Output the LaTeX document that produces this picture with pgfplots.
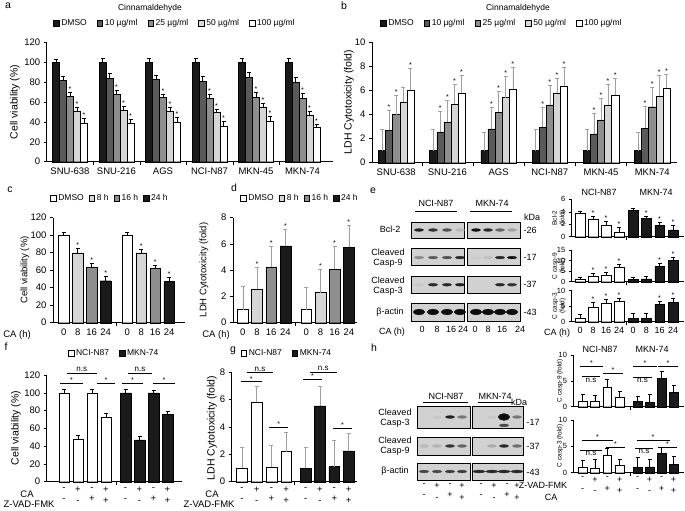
\documentclass[border=0pt]{standalone}
\usepackage{fontspec}
\setmainfont{Liberation Sans}
\usepackage{pgfplots}
\pgfplotsset{compat=1.18}

\newcommand\fs[2]{\fontsize{#1}{#2}\selectfont}

\definecolor{cK}{HTML}{1A1A1A}
\definecolor{cD}{HTML}{5A5A5A}
\definecolor{cM}{HTML}{8E8E8E}
\definecolor{cL}{HTML}{D6D6D6}

\pgfplotsset{
  base/.style={scale only axis, anchor=south west, axis x line*=bottom, axis y line*=left,
    tick align=outside, enlargelimits=false, clip=false,
    axis line style={line width=0.5pt}, tick style={black, line width=0.5pt},
    major tick length=3pt, tick label style={font=\fs{9.5}{11}, align=center},
    /pgf/number format/assume math mode=true, xticklabels={},
    error bars/error bar style={line width=0.5pt, black},
    legend style={draw=none, fill=none, font=\fs{8.5}{10}, anchor=center, inner sep=0pt,
      /tikz/every even column/.append style={column sep=8pt}},
    legend cell align=left},
  small/.style={tick label style={font=\fs{7.5}{9}}},
  cats/.style={extra x tick style={major tick length=0pt, xticklabel style={yshift=-#1}}},
  % bars sit at their own x; error bars do not follow bar shift
  br/.style 2 args={ybar, bar width=#1, bar shift=0pt, fill=#2, draw=black, line width=0.4pt,
    error bars/y dir=plus, error bars/y explicit,
    legend image code/.code={\draw[##1,/tikz/.cd,line width=0.4pt] (0pt,-2.8pt) rectangle (5.6pt,2.8pt);}},
  stars/.style={only marks, mark=*, mark size=0pt, forget plot,
    scatter/use mapped color={draw=none, fill=none},
    nodes near coords={*}, point meta=y,
    nodes near coords style={anchor=south, inner sep=0pt, font=\fs{7}{8}, text=black, yshift=0.5pt}},
  sig/.style={black, line width=0.5pt, mark=none, forget plot},
  blotax/.style={scale only axis, anchor=south west, enlargelimits=false, xtick=\empty, ytick=\empty,
    ymin=0, ymax=1, axis line style={line width=0.8pt}, axis background/.style={fill=black!18},
    colormap={blot}{color=(black!18) color=(black!95)}, point meta min=0, point meta max=1,
    tick label style={font=\fs{9}{11.5}, align=center}, xtick style={draw=none}},
  band/.style={scatter, only marks, mark=*, mark size=1.7pt, point meta=explicit,
    scatter/use mapped color={draw=mapped color, fill=mapped color},
    mark options={xscale=2.7, yscale=0.8}},
  wband/.style={band, mark size=2.2pt, mark options={xscale=2.6, yscale=1.3}},
}

% [opts]{left}{bottom}{width}{height}{right}{plots}
\newcommand\blot[7][]{%
\begin{axis}[blotax, at={(#2pt,-#3pt)}, width=#4pt, height=#5pt, xmin=#2, xmax=#6, #1]
#7
\end{axis}}

\begin{document}
\begin{tikzpicture}
\useasboundingbox (0pt,0pt) rectangle (685pt,-511pt);

% ---------------- a ----------------
\begin{axis}[base, at={(46.7pt,-161.7pt)}, width=286.3pt, height=119pt,
  xmin=46.7, xmax=333, ymin=0, ymax=120, ytick={0,20,...,120},
  xtick={93.25,139.75,186.25,232.75,279.25},
  extra x ticks={70,116.5,163,209.5,256,302.5},
  extra x tick labels={SNU-638,SNU-216,AGS,NCI-N87,MKN-45,MKN-74},
  cats=3pt,
  legend columns=5, legend style={at={(0.448,1.166)}}]
\addplot[br={7}{cK}] coordinates {(56,100)+-(0,3) (102.5,100)+-(0,4) (149,100)+-(0,4) (195.5,100)+-(0,4) (242,100)+-(0,4) (288.5,100)+-(0,4)};
\addlegendentry{DMSO}
\addplot[br={7}{cD}] coordinates {(63,82)+-(0,4) (109.5,84)+-(0,5) (156,83)+-(0,4) (202.5,81)+-(0,5) (249,85)+-(0,5) (295.5,80)+-(0,5)};
\addlegendentry{10 µg/ml}
\addplot[br={7}{cM}] coordinates {(70,66)+-(0,4) (116.5,68)+-(0,4) (163,65)+-(0,3) (209.5,64)+-(0,4) (256,65)+-(0,5) (302.5,64)+-(0,5)};
\addlegendentry{25 µg/ml}
\addplot[br={7}{cL}] coordinates {(77,51)+-(0,4) (123.5,52)+-(0,4) (170,51)+-(0,4) (216.5,50)+-(0,3) (263,55)+-(0,4) (309.5,47)+-(0,4)};
\addlegendentry{50 µg/ml}
\addplot[br={7}{white}] coordinates {(84,39)+-(0,5) (130.5,39)+-(0,4) (177,40)+-(0,5) (223.5,36)+-(0,5) (270,41)+-(0,5) (316.5,35)+-(0,3)};
\addlegendentry{100 µg/ml}
\addplot[stars] coordinates {(70,70) (116.5,72) (163,68) (209.5,68) (256,70) (302.5,69)
  (77,55) (123.5,56) (170,55) (216.5,53) (263,59) (309.5,51)
  (84,44) (130.5,43) (177,45) (223.5,41) (270,46) (316.5,38)};
\end{axis}

% ---------------- b ----------------
\begin{axis}[base, at={(372pt,-162.7pt)}, width=305pt, height=120.4pt,
  xmin=372, xmax=677, ymin=0, ymax=10, ytick={0,2,...,10},
  xtick={421.8,473,524.2,575.4,626.6},
  extra x ticks={396.2,447.4,498.6,549.8,601,652.2},
  extra x tick labels={SNU-638,SNU-216,AGS,NCI-N87,MKN-45,MKN-74},
  cats=3pt,
  error bars/error bar style={gray!75},
  legend columns=5, legend style={at={(0.426,1.160)}}]
\addplot[br={7.1}{cK}] coordinates {(382,1)+-(0,1.8) (433.2,1)+-(0,1.75) (484.4,1)+-(0,1.5) (535.6,1)+-(0,1.8) (586.8,1)+-(0,1.75) (638,1)+-(0,1.5)};
\addlegendentry{DMSO}
\addplot[br={7.1}{cD}] coordinates {(389.1,2.7)+-(0,1.7) (440.3,2.55)+-(0,1.7) (491.5,2.8)+-(0,1.8) (542.7,2.95)+-(0,1.7) (593.9,2.4)+-(0,1.7) (645.1,2.85)+-(0,1.85)};
\addlegendentry{10 µg/ml}
\addplot[br={7.1}{cM}] coordinates {(396.2,4.0)+-(0,1.6) (447.4,3.4)+-(0,1.8) (498.6,4.2)+-(0,1.7) (549.8,4.8)+-(0,1.6) (601,3.55)+-(0,1.8) (652.2,4.65)+-(0,1.65)};
\addlegendentry{25 µg/ml}
\addplot[br={7.1}{cL}] coordinates {(403.3,5.05)+-(0,1.25) (454.5,4.85)+-(0,1.7) (505.7,5.4)+-(0,1.75) (556.9,5.75)+-(0,1.25) (608.1,4.8)+-(0,1.7) (659.3,5.5)+-(0,1.8)};
\addlegendentry{50 µg/ml}
\addplot[br={7.1}{white}] coordinates {(410.4,6.0)+-(0,1.85) (461.6,5.8)+-(0,1.5) (512.8,6.1)+-(0,1.8) (564,6.35)+-(0,1.6) (615.2,5.6)+-(0,1.4) (666.4,6.2)+-(0,1.15)};
\addlegendentry{100 µg/ml}
\addplot[stars] coordinates {(389.1,4.4) (440.3,4.25) (491.5,4.6) (542.7,4.65) (593.9,4.1) (645.1,4.7)
  (396.2,5.6) (447.4,5.2) (498.6,5.9) (549.8,6.4) (601,5.35) (652.2,6.3)
  (454.5,6.55) (505.7,7.15) (556.9,7.0) (608.1,6.5) (659.3,7.3)
  (410.4,7.85) (461.6,7.3) (512.8,7.9) (564,7.95) (615.2,7.0) (666.4,7.35)};
\end{axis}

% ---------------- c ----------------
\begin{axis}[base, at={(53pt,-322.7pt)}, width=132pt, height=105pt,
  xmin=53, xmax=185, ymin=0, ymax=120, ytick={0,20,...,120},
  xtick={116},
  extra x ticks={63.7,77.7,91.7,105.7,127.2,141.2,155.2,169.2},
  extra x tick labels={0,8,16,24,0,8,16,24},
  cats=3pt,
  legend columns=4, legend style={at={(0.432,1.188)},
    /tikz/every even column/.append style={column sep=3pt}}]
\addplot[br={10.7}{white}] coordinates {(63.7,100)+-(0,4) (127.2,100)+-(0,4)};
\addlegendentry{DMSO}
\addplot[br={10.7}{cL}] coordinates {(77.7,80)+-(0,5) (141.2,80)+-(0,4)};
\addlegendentry{8 h}
\addplot[br={10.7}{cM}] coordinates {(91.7,63.5)+-(0,4.5) (155.2,62)+-(0,4)};
\addlegendentry{16 h}
\addplot[br={10.7}{cK}] coordinates {(105.7,48)+-(0,5) (169.2,47)+-(0,4.5)};
\addlegendentry{24 h}
\addplot[stars] coordinates {(77.7,85) (91.7,68) (105.7,53) (141.2,84) (155.2,66) (169.2,51.5)};
\end{axis}

% ---------------- d ----------------
\begin{axis}[base, at={(233pt,-322.7pt)}, width=124pt, height=105pt,
  xmin=233, xmax=357, ymin=0, ymax=8, ytick={0,2,...,8},
  xtick={295},
  extra x ticks={242.8,257,271.2,285.4,306.2,320.4,334.6,348.8},
  extra x tick labels={0,8,16,24,0,8,16,24},
  cats=3pt,
  error bars/error bar style={gray!75},
  legend columns=4, legend style={at={(0.54,1.188)},
    /tikz/every even column/.append style={column sep=3pt}}]
\addplot[br={10.7}{white}] coordinates {(242.8,1)+-(0,1.8) (306.2,1)+-(0,1.7)};
\addlegendentry{DMSO}
\addplot[br={10.7}{cL}] coordinates {(257,2.56)+-(0,1.65) (320.4,2.3)+-(0,1.75)};
\addlegendentry{8 h}
\addplot[br={10.7}{cM}] coordinates {(271.2,4.26)+-(0,1.6) (334.6,4.06)+-(0,1.8)};
\addlegendentry{16 h}
\addplot[br={10.7}{cK}] coordinates {(285.4,5.86)+-(0,1.3) (348.8,5.74)+-(0,1.7)};
\addlegendentry{24 h}
\addplot[stars] coordinates {(257,4.21) (271.2,5.86) (285.4,7.16) (320.4,4.05) (334.6,5.86) (348.8,7.44)};
\end{axis}

% ---------------- e blots ----------------
\blot{411}{238}{53}{16}{464}{\addplot[band] coordinates {(419,0.5)[0.9] (433,0.5)[0.8] (447,0.5)[0.65] (460,0.5)[0.12]};}
\blot{467}{238}{53}{16}{520}{\addplot[band] coordinates {(476,0.5)[1] (488,0.5)[0.85] (500,0.5)[0.55] (512,0.5)[0.25]};}
\blot{411}{265}{53}{16.5}{464}{\addplot[band] coordinates {(419,0.45)[0.35] (433,0.45)[0.6] (447,0.45)[0.65] (460,0.45)[0.85]};}
\blot{467}{265}{53}{16.5}{520}{\addplot[band] coordinates {(476,0.45)[0.03] (488,0.45)[0.08] (500,0.45)[0.85] (512,0.45)[0.95]};}
\blot{411}{293.5}{53}{17.5}{464}{\addplot[band] coordinates {(419,0.5)[0.05] (433,0.5)[0.85] (447,0.5)[0.85] (460,0.5)[0.9]};}
\blot{467}{293.5}{53}{17.5}{520}{\addplot[band] coordinates {(476,0.5)[0] (488,0.5)[0] (500,0.5)[0.85] (512,0.5)[0.8]};}
\blot[xtick={422,437,451,463}, xticklabels={0,8,16,24}, xticklabel style={yshift=-2pt}]{411}{321}{53}{18}{464}{\addplot[wband] coordinates {(419,0.5)[1] (433,0.5)[1] (447,0.5)[1] (460,0.5)[1]};}
\blot[xtick={475,488,502,520}, xticklabels={0,8,16,24}, xticklabel style={yshift=-2pt}]{467}{321}{53}{18}{520}{\addplot[wband] coordinates {(476,0.5)[1] (488,0.5)[1] (500,0.5)[1] (512,0.5)[1]};}

% ---------------- e right ----------------
\begin{axis}[base, small, at={(571.7pt,-236.7pt)}, width=112.3pt, height=37.4pt,
  xmin=571.7, xmax=684, ymin=0, ymax=6, ytick={0,2,4,6}, xtick={626}]
\addplot[br={9.5}{white}] coordinates {(580,3.8)+-(0,0.3) (593,2.8)+-(0,0.5) (606,1.9)+-(0,0.6) (619,0.75)+-(0,0.75)};
\addplot[br={9.5}{cK}] coordinates {(633,4.2)+-(0,0.4) (646.3,2.9)+-(0,0.4) (659.6,1.8)+-(0,0.6) (673,1.1)+-(0,0.8)};
\addplot[stars] coordinates {(593,3.3) (606,2.5) (619,1.5) (646.3,3.3) (659.6,2.4) (673,1.9)};
\end{axis}
\begin{axis}[base, small, at={(571.7pt,-281.7pt)}, width=112.3pt, height=31.7pt,
  xmin=571.7, xmax=684, ymin=0, ymax=15, ytick={0,5,10,15}, xtick={626}]
\addplot[br={9.5}{white}] coordinates {(580,1.1)+-(0,0.9) (593,2.4)+-(0,1.5) (606,3.2)+-(0,1.5) (619,7.0)+-(0,1.4)};
\addplot[br={9.5}{cK}] coordinates {(633,1.1)+-(0,1.0) (646.3,1.3)+-(0,1.1) (659.6,7.1)+-(0,1.5) (673,10.2)+-(0,1.5)};
\addplot[stars] coordinates {(593,3.9) (606,4.7) (619,8.4) (659.6,8.6) (673,11.7)};
\end{axis}
\begin{axis}[base, small, at={(571.7pt,-321.7pt)}, width=112.3pt, height=31pt,
  xmin=571.7, xmax=684, ymin=0, ymax=10, ytick={0,5,10}, xtick={626},
  extra x ticks={580,593,606,619,633,646.3,659.6,673},
  extra x tick labels={0,8,16,24,0,8,16,24},
  extra x tick style={major tick length=0pt, xticklabel style={font=\fs{9}{10.5}, yshift=-2pt}}]
\addplot[br={9.5}{white}] coordinates {(580,1.1)+-(0,1.3) (593,4.8)+-(0,1.5) (606,5.9)+-(0,1.3) (619,6.7)+-(0,1.0)};
\addplot[br={9.5}{cK}] coordinates {(633,1.0)+-(0,1.6) (646.3,1.1)+-(0,1.6) (659.6,5.6)+-(0,1.1) (673,6.2)+-(0,1.3)};
\addplot[stars] coordinates {(593,6.3) (606,7.2) (619,7.7) (659.6,6.7) (673,7.5)};
\end{axis}

% ---------------- f ----------------
\begin{axis}[base, at={(46.7pt,-481.7pt)}, width=135pt, height=106.7pt,
  xmin=46.7, xmax=181.7, ymin=0, ymax=120, ytick={0,20,...,120},
  xtick={116},
  extra x ticks={64,78,92,106,125.5,139.5,153.5,167.5},
  extra x tick labels={{-\\-},{+\\-},{-\\+},{+\\+},{-\\-},{+\\-},{-\\+},{+\\+}},
  cats=2pt,
  legend columns=2, legend style={at={(0.5,1.206)}}]
\addplot[br={10.5}{white}] coordinates {(64,100)+-(0,4) (78,48)+-(0,4) (92,100)+-(0,4) (106,73)+-(0,4)};
\addlegendentry{NCI-N87}
\addplot[br={10.5}{cK}] coordinates {(125.5,100)+-(0,4) (139.5,47)+-(0,4) (153.5,100)+-(0,3) (167.5,76)+-(0,3.5)};
\addlegendentry{MKN-74}
\addplot[sig] coordinates {(60,111) (83,111)};
\addplot[sig] coordinates {(96.7,111) (115,111)};
\addplot[sig] coordinates {(66.7,122.3) (96.7,122.3)};
\addplot[sig] coordinates {(122,111) (143,111)};
\addplot[sig] coordinates {(153,111) (175,111)};
\addplot[sig] coordinates {(128,122.3) (152,122.3)};
\node[font=\fs{7}{8}, anchor=south, inner sep=0.5pt] at (axis cs:71.5,111) {*};
\node[font=\fs{7}{8}, anchor=south, inner sep=0.5pt] at (axis cs:106,111) {*};
\node[font=\fs{7}{8}, anchor=south, inner sep=0.5pt] at (axis cs:132.5,111) {*};
\node[font=\fs{7}{8}, anchor=south, inner sep=0.5pt] at (axis cs:164,111) {*};
\node[font=\fs{8}{9}, anchor=south, inner sep=1pt] at (axis cs:81.7,122.3) {n.s};
\node[font=\fs{8}{9}, anchor=south, inner sep=1pt] at (axis cs:140,122.3) {n.s};
\end{axis}

% ---------------- g ----------------
\begin{axis}[base, at={(231.7pt,-481.7pt)}, width=125pt, height=109.4pt,
  xmin=231.7, xmax=356.7, ymin=0, ymax=8, ytick={0,2,...,8},
  xtick={294},
  extra x ticks={242,256.7,271.4,286.1,305.7,320,334.3,348.6},
  extra x tick labels={{-\\-},{+\\-},{-\\+},{+\\+},{-\\-},{+\\-},{-\\+},{+\\+}},
  cats=2pt,
  error bars/error bar style={gray!75},
  legend columns=2, legend style={at={(0.442,1.176)}}]
\addplot[br={10.7}{white}] coordinates {(242,1)+-(0,1.5) (256.7,5.8)+-(0,1.2) (271.4,1.05)+-(0,1.6) (286.1,2.2)+-(0,1.45)};
\addlegendentry{NCI-N87}
\addplot[br={10.7}{cK}] coordinates {(305.7,1)+-(0,1.55) (320,5.55)+-(0,1.4) (334.3,1.1)+-(0,1.9) (348.6,2.25)+-(0,1.3)};
\addlegendentry{MKN-74}
\addplot[sig] coordinates {(240.7,7.31) (261.7,7.31)};
\addplot[sig] coordinates {(246.7,8.0) (273.3,8.0)};
\addplot[sig] coordinates {(269.3,3.98) (288.3,3.98)};
\addplot[sig] coordinates {(303.3,7.49) (321.7,7.49)};
\addplot[sig] coordinates {(310,8.04) (336.7,8.04)};
\addplot[sig] coordinates {(333.3,3.9) (351.7,3.9)};
\node[font=\fs{7}{8}, anchor=south, inner sep=0.5pt] at (axis cs:251.2,7.31) {*};
\node[font=\fs{7}{8}, anchor=south, inner sep=0.5pt] at (axis cs:278.8,3.98) {*};
\node[font=\fs{7}{8}, anchor=south, inner sep=0.5pt] at (axis cs:312.5,7.49) {*};
\node[font=\fs{7}{8}, anchor=south, inner sep=0.5pt] at (axis cs:342.5,3.9) {*};
\node[font=\fs{8}{9}, anchor=south, inner sep=1pt] at (axis cs:260,8.0) {n.s};
\node[font=\fs{8}{9}, anchor=south, inner sep=1pt] at (axis cs:323.3,8.04) {n.s};
\end{axis}

% ---------------- h blots ----------------
\blot{417}{428}{53}{22}{470}{\addplot[band] coordinates {(424,0.5)[0] (437,0.5)[0.05] (450,0.5)[0.9] (462,0.5)[0.45]};}
\blot{472}{428}{51}{22}{523}{\addplot[band] coordinates {(479,0.5)[0] (492,0.5)[0.05] (517,0.5)[0.45]};
  \addplot[band, mark size=2.6pt, mark options={xscale=2.2, yscale=1.3}] coordinates {(504,0.5)[1]};
  \addplot[band] coordinates {(504,0.12)[0.7]};}
\blot{417}{455}{53}{18}{470}{\addplot[band] coordinates {(424,0.5)[0.12] (437,0.5)[0.15] (450,0.5)[0.8] (462,0.5)[0.55]};}
\blot{472}{455}{51}{18}{523}{\addplot[band] coordinates {(479,0.5)[0] (492,0.5)[0.2] (504,0.5)[0.85] (517,0.5)[0.5]};}
\blot[xtick={424,437,450,462}, xticklabels={{-\\-},{+\\-},{-\\+},{+\\+}}]{417}{480}{53}{17}{470}{\addplot[band] coordinates {(424,0.5)[0.7] (437,0.5)[0.7] (450,0.5)[0.75] (462,0.5)[0.75]};}
\blot[xtick={481,494,507,517}, xticklabels={{-\\-},{+\\-},{-\\+},{+\\+}}]{472}{480}{51}{17}{523}{\addplot[band, mark options={xscale=3.6, yscale=0.8}] coordinates {(479,0.5)[0.85] (492,0.5)[0.85] (504,0.5)[0.85] (517,0.5)[0.85]};}

% ---------------- h right ----------------
\begin{axis}[base, small, at={(573.5pt,-406.7pt)}, width=110.5pt, height=51.7pt,
  xmin=573.5, xmax=684, ymin=0, ymax=10, ytick={0,5,10}, xtick={630}]
\addplot[br={8.7}{white}] coordinates {(582.5,1.1)+-(0,1.35) (594.9,0.97)+-(0,1.3) (607.3,3.68)+-(0,1.67) (619.7,1.8)+-(0,1.2)};
\addplot[br={8.7}{cK}] coordinates {(637.5,1.1)+-(0,0.96) (649.5,0.9)+-(0,1.55) (661.5,5.48)+-(0,1.3) (673.5,2.77)+-(0,1.43)};
\addplot[sig] coordinates {(580,7.87) (603,7.87)};
\addplot[sig] coordinates {(582,5.8) (600,5.8)};
\addplot[sig] coordinates {(603,6.5) (623,6.5)};
\addplot[sig] coordinates {(633,7.87) (657,7.87)};
\addplot[sig] coordinates {(633,5.75) (652,5.75)};
\addplot[sig] coordinates {(658,7.87) (678,7.87)};
\node[font=\fs{7}{8}, anchor=south, inner sep=0.5pt] at (axis cs:591.5,7.87) {*};
\node[font=\fs{7}{8}, anchor=south, inner sep=0.5pt] at (axis cs:613,6.5) {*};
\node[font=\fs{7}{8}, anchor=south, inner sep=0.5pt] at (axis cs:645,7.87) {*};
\node[font=\fs{7}{8}, anchor=south, inner sep=0.5pt] at (axis cs:668,7.87) {*};
\node[font=\fs{8}{9}, anchor=north, inner sep=1pt] at (axis cs:591,5.8) {n.s};
\node[font=\fs{8}{9}, anchor=north, inner sep=1pt] at (axis cs:642.5,5.75) {n.s};
\end{axis}
\begin{axis}[base, small, at={(573.5pt,-472.7pt)}, width=110.5pt, height=52.7pt,
  xmin=573.5, xmax=684, ymin=0, ymax=10, ytick={0,5,10}, xtick={630},
  extra x ticks={582.5,594.9,607.3,619.7,637.5,649.5,661.5,673.5},
  extra x tick labels={{-\\-},{+\\-},{-\\+},{+\\+},{-\\-},{+\\-},{-\\+},{+\\+}},
  extra x tick style={major tick length=0pt, xticklabel style={font=\fs{9}{11.5}, yshift=-1pt}}]
\addplot[br={8.7}{white}] coordinates {(582.5,1.0)+-(0,1.3) (594.9,0.9)+-(0,1.7) (607.3,3.35)+-(0,1.25) (619.7,1.45)+-(0,1.15)};
\addplot[br={8.7}{cK}] coordinates {(637.5,1.0)+-(0,1.9) (649.5,1.1)+-(0,1.5) (661.5,3.65)+-(0,1.15) (673.5,1.65)+-(0,1.55)};
\addplot[sig] coordinates {(581.7,6.2) (613.3,6.2)};
\addplot[sig] coordinates {(580,4.3) (601.7,4.3)};
\addplot[sig] coordinates {(606,4.8) (625,4.8)};
\addplot[sig] coordinates {(636.7,6.2) (670,6.2)};
\addplot[sig] coordinates {(635,4.6) (653,4.6)};
\addplot[sig] coordinates {(658,4.9) (677,4.9)};
\node[font=\fs{7}{8}, anchor=south, inner sep=0.5pt] at (axis cs:597.5,6.2) {*};
\node[font=\fs{7}{8}, anchor=south, inner sep=0.5pt] at (axis cs:615.5,4.8) {*};
\node[font=\fs{7}{8}, anchor=south, inner sep=0.5pt] at (axis cs:653,6.2) {*};
\node[font=\fs{7}{8}, anchor=south, inner sep=0.5pt] at (axis cs:667.5,4.9) {*};
\node[font=\fs{8}{9}, anchor=north, inner sep=1pt] at (axis cs:591,4.3) {n.s};
\node[font=\fs{8}{9}, anchor=north, inner sep=1pt] at (axis cs:644,4.6) {n.s};
\end{axis}

% ---------------- text ----------------
\begin{scope}[every node/.style={font=\fs{10.5}{12}}]
\node at (8pt,-6pt) {a};
\node at (344pt,-6pt) {b};
\node at (10pt,-190pt) {c};
\node at (234pt,-188pt) {d};
\node at (373pt,-191pt) {e};
\node at (6pt,-347pt) {f};
\node at (233pt,-351pt) {g};
\node at (374pt,-348pt) {h};
\end{scope}
\begin{scope}[every node/.style={font=\fs{8.5}{10}}]
\node at (150pt,-8pt) {Cinnamaldehyde};
\node at (518pt,-8pt) {Cinnamaldehyde};
\end{scope}
\begin{scope}[every node/.style={font=\fs{10.5}{12}, rotate=90}]
\node at (15pt,-102pt) {Cell viability (\%)};
\node at (349pt,-102pt) {LDH Cytotoxicity (fold)};
\node at (16pt,-428pt) {Cell viability (\%)};
\node at (212pt,-428pt) {LDH Cytotoxicity (fold)};
\end{scope}
\begin{scope}[every node/.style={font=\fs{9.5}{11}, rotate=90}]
\node at (25pt,-270pt) {Cell viability (\%)};
\node at (204pt,-270pt) {LDH Cytotoxicity (fold)};
\end{scope}
\begin{scope}[every node/.style={font=\fs{9.5}{11}}]
\node at (17pt,-335pt) {CA (h)};
\node at (216pt,-335pt) {CA (h)};
\node at (27pt,-494pt) {CA};
\node[anchor=west] at (0pt,-504pt) {Z-VAD-FMK};
\node at (212pt,-494pt) {CA};
\node[anchor=west] at (180pt,-504pt) {Z-VAD-FMK};
\end{scope}
\begin{scope}[every node/.style={font=\fs{9}{10.5}}]
% e blot labels
\node at (436pt,-203pt) {NCI-N87};
\node at (492pt,-203pt) {MKN-74};
\node[align=center] at (390pt,-229pt) {Bcl-2};
\node[align=center] at (388pt,-258pt) {Cleaved\\Casp-9};
\node[align=center] at (388pt,-286pt) {Cleaved\\Casp-3};
\node at (390pt,-312pt) {β-actin};
\node at (392pt,-332pt) {CA (h)};
\node at (532pt,-217pt) {kDa};
\node[anchor=west] at (520pt,-230pt) {-26};
\node[anchor=west] at (520pt,-257pt) {-17};
\node[anchor=west] at (520pt,-284pt) {-37};
\node[anchor=west] at (520pt,-312pt) {-43};
\node at (599pt,-192pt) {NCI-N87};
\node at (656pt,-192pt) {MKN-74};
\node at (557pt,-333pt) {CA (h)};
% h blot labels
\node at (446pt,-396pt) {NCI-N87};
\node at (495pt,-396pt) {MKN-74};
\node[align=center] at (395pt,-418pt) {Cleaved\\Casp-3};
\node[align=center] at (395pt,-446pt) {Cleaved\\Casp-9};
\node at (395pt,-471pt) {β-actin};
\node at (519pt,-402pt) {kDa};
\node[anchor=west] at (523pt,-422pt) {-17};
\node[anchor=west] at (523pt,-446pt) {-37};
\node[anchor=west] at (523pt,-472pt) {-43};
\node at (543pt,-485pt) {Z-VAD-FMK};
\node at (551pt,-497pt) {CA};
\node at (600pt,-349pt) {NCI-N87};
\node at (652pt,-349pt) {MKN-74};
\end{scope}
\draw[line width=0.5pt] (415pt,-211pt) -- (457pt,-211pt);
\draw[line width=0.5pt] (470pt,-211pt) -- (512pt,-211pt);
\draw[line width=0.5pt] (423pt,-402pt) -- (468pt,-402pt);
\draw[line width=0.5pt] (478pt,-402pt) -- (513pt,-402pt);
\begin{scope}[every node/.style={font=\fs{6.5}{7.5}, rotate=90, align=center}]
\node at (559pt,-218pt) {Bcl-2\\(fold)};
\node at (559pt,-266pt) {C casp-9\\(fold)};
\node at (559pt,-306pt) {C casp-3\\(fold)};
\node at (560pt,-381pt) {C casp-9 (fold)};
\node at (560pt,-446pt) {C casp-3 (fold)};
\end{scope}
\end{tikzpicture}
\end{document}
